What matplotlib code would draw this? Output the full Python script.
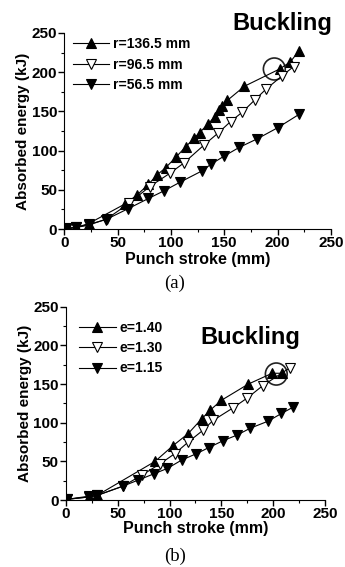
import matplotlib
matplotlib.use("Agg")
import matplotlib.pyplot as plt
from matplotlib.patches import Ellipse
from matplotlib.ticker import MultipleLocator

# ---- data (a) ----
r1365_x = [2, 11, 23, 57, 68, 79, 87, 95, 105, 114, 122, 127, 135, 141, 145, 148, 153, 169, 202, 212, 220]
r1365_y = [1, 2, 7, 32, 43, 57, 69, 78, 92, 105, 116, 123, 134, 143, 152, 157, 164, 182, 204, 213, 227]
r965_x = [2, 11, 23, 40, 61, 80, 99, 112, 131, 144, 156, 167, 179, 189, 204, 215]
r965_y = [1, 2, 5, 13, 33, 54, 71, 84, 107, 122, 137, 149, 165, 178, 195, 207]
r565_x = [2, 11, 23, 39, 60, 79, 94, 109, 129, 138, 150, 164, 181, 200, 220]
r565_y = [0, 2, 6, 12, 26, 39, 49, 60, 74, 83, 93, 104, 115, 129, 146]
labels_a = ["r=136.5 mm", "r=96.5 mm", "r=56.5 mm"]

# ---- data (b) ----
e140_x = [1, 22, 30, 86, 103, 118, 131, 139, 150, 176, 199, 209]
e140_y = [1, 4, 6, 50, 70, 86, 105, 116, 129, 150, 164, 164]
e130_x = [1, 22, 30, 55, 73, 91, 105, 118, 132, 142, 161, 175, 190, 216]
e130_y = [1, 4, 6, 18, 32, 47, 60, 75, 90, 103, 119, 132, 148, 171]
e115_x = [1, 22, 30, 55, 70, 85, 98, 112, 126, 138, 152, 165, 178, 195, 208, 219]
e115_y = [1, 5, 6, 18, 26, 34, 41, 52, 60, 68, 77, 84, 93, 102, 112, 120]
labels_b = ["e=1.40", "e=1.30", "e=1.15"]

fig = plt.figure(figsize=(3.45, 5.67), dpi=100)
bold = dict(family="Liberation Sans", weight="bold")


def style(ax, xpad):
    ax.set_xlim(0, 250)
    ax.set_ylim(0, 250)
    for s in ["top", "right"]:
        ax.spines[s].set_visible(False)
    ax.xaxis.set_major_locator(MultipleLocator(50))
    ax.yaxis.set_major_locator(MultipleLocator(50))
    ax.xaxis.set_minor_locator(MultipleLocator(25))
    ax.yaxis.set_minor_locator(MultipleLocator(25))
    ax.tick_params(which="major", direction="out", length=4, width=1, labelsize=11, pad=1)
    ax.tick_params(which="minor", direction="out", length=2.5, width=0.8)
    for lbl in ax.get_xticklabels() + ax.get_yticklabels():
        lbl.set_fontfamily("Liberation Sans")
        lbl.set_fontweight("bold")
    ax.set_xlabel("Punch stroke (mm)", fontsize=11.5, labelpad=xpad, **bold)
    ax.set_ylabel("Absorbed energy (kJ)", fontsize=11, labelpad=1, **bold)


def draw(ax, series, labels):
    kinds = [dict(marker="^", mfc="black"), dict(marker="v", mfc="white"), dict(marker="v", mfc="black")]
    for (x, y), lab, k in zip(series, labels, kinds):
        ax.plot(x, y, color="black", lw=0.8, marker=k["marker"], mfc=k["mfc"], mec="black",
                ms=6.5, mew=0.8, label=lab)


ax1 = fig.add_axes([0.186, 0.596, 0.773, 0.346])
draw(ax1, [(r1365_x, r1365_y), (r965_x, r965_y), (r565_x, r565_y)], labels_a)
style(ax1, 1.5)
ax1.legend(loc="upper left", bbox_to_anchor=(0.0, 1.02), frameon=False, handlelength=2.6,
           handletextpad=0.3, labelspacing=0.45, borderaxespad=0.2,
           prop=dict(family="Liberation Sans", weight="bold", size=10))
ax1.add_patch(Ellipse((197, 204), 20.5, 28, fill=False, lw=1.2, color="#222222"))
fig.text(0.818, 0.958, "Buckling", ha="center", va="center", fontsize=17, **bold)
fig.text(0.507, 0.500, "(a)", ha="center", va="center", fontsize=13.5, family="Liberation Serif")

ax2 = fig.add_axes([0.191, 0.118, 0.751, 0.341])
draw(ax2, [(e140_x, e140_y), (e130_x, e130_y), (e115_x, e115_y)], labels_b)
style(ax2, 0)
ax2.legend(loc="upper left", bbox_to_anchor=(0.02, 0.97), frameon=False, handlelength=2.6,
           handletextpad=0.3, labelspacing=0.45, borderaxespad=0.2,
           prop=dict(family="Liberation Sans", weight="bold", size=10))
ax2.add_patch(Ellipse((203, 163), 21, 28.5, fill=False, lw=1.2, color="#222222"))
fig.text(0.725, 0.404, "Buckling", ha="center", va="center", fontsize=17, **bold)
fig.text(0.507, 0.018, "(b)", ha="center", va="center", fontsize=13.5, family="Liberation Serif")

fig.savefig("out.png", dpi=100)
